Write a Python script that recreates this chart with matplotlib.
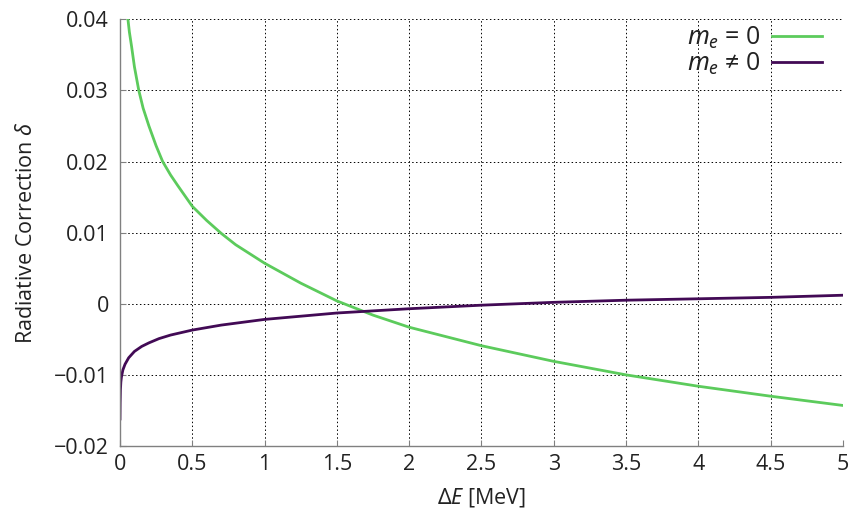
import matplotlib
matplotlib.use("Agg")
import matplotlib.pyplot as plt

# Data
x_me0 = [0.055, 0.065, 0.08, 0.1, 0.13, 0.16, 0.2, 0.25, 0.295, 0.35, 0.4, 0.5, 0.6,
         0.7, 0.8, 1.0, 1.25, 1.5, 1.75, 2.0, 2.5, 3.0, 3.5, 4.0, 4.5, 5.0]
y_me0 = [0.040, 0.0382, 0.0362, 0.0333, 0.0300, 0.0275, 0.0250, 0.0222, 0.0200,
         0.0181, 0.0166, 0.0137, 0.0117, 0.0099, 0.0083, 0.0057, 0.0029, 0.0004,
         -0.0016, -0.0033, -0.0059, -0.0081, -0.0100, -0.0116, -0.0130, -0.0143]

x_me = [0.0, 0.001, 0.003, 0.006, 0.01, 0.02, 0.035, 0.06, 0.1, 0.15, 0.2, 0.27,
        0.35, 0.5, 0.7, 1.0, 1.5, 2.0, 2.5, 3.0, 3.5, 4.0, 4.5, 5.0]
y_me = [-0.0162, -0.0140, -0.0121, -0.0110, -0.0103, -0.0093, -0.0085, -0.0076,
        -0.0067, -0.0060, -0.0055, -0.0049, -0.0044, -0.0037, -0.0030, -0.0022,
        -0.0013, -0.0007, -0.0002, 0.0002, 0.0005, 0.0007, 0.0009, 0.0012]

xticks = [0, 0.5, 1, 1.5, 2, 2.5, 3, 3.5, 4, 4.5, 5]
xticklabels = ["0", "0.5", "1", "1.5", "2", "2.5", "3", "3.5", "4", "4.5", "5"]
yticks = [-0.02, -0.01, 0, 0.01, 0.02, 0.03, 0.04]
yticklabels = ["\u22120.02", "\u22120.01", "0", "0.01", "0.02", "0.03", "0.04"]

plt.rcParams['font.family'] = ['Open Sans', 'DejaVu Sans']
plt.rcParams['mathtext.fontset'] = 'custom'
plt.rcParams['mathtext.rm'] = 'Noto Sans'
plt.rcParams['mathtext.it'] = 'Noto Sans:italic'

fig = plt.figure(figsize=(8.51, 5.14), dpi=100)
ax = fig.add_axes([0.141, 0.1323, 0.8496, 0.8302])

green = '#5ccb5c'
purple = '#420a55'
ax.plot(x_me0, y_me0, color=green, lw=2.0, label=r'$m_e$ = 0')
ax.plot(x_me, y_me, color=purple, lw=2.0, label=r'$m_e$ ≠ 0')

ax.set_xlim(0, 5)
ax.set_ylim(-0.02, 0.04)
ax.set_xticks(xticks)
ax.set_xticklabels(xticklabels)
ax.set_yticks(yticks)
ax.set_yticklabels(yticklabels)

ax.grid(True, color='black', linestyle=(0, (1.5, 2.5)), linewidth=0.7)
for s in ['top', 'right']:
    ax.spines[s].set_visible(False)
for s in ['left', 'bottom']:
    ax.spines[s].set_color('#808080')
    ax.spines[s].set_linewidth(1.0)
ax.tick_params(direction='in', length=4, color='#808080', labelsize=15.5,
               labelcolor='#222222')
ax.tick_params(axis='x', pad=6)
ax.tick_params(axis='y', pad=8)

ax.set_xlabel(r'$\Delta E$ [MeV]', fontsize=15.5, color='#222222', labelpad=8)
ax.set_ylabel(r'Radiative Correction $\delta$', fontsize=15.5, color='#222222',
              labelpad=12)

leg = ax.legend(loc='upper right', frameon=False, markerfirst=False, fontsize=18,
                handlelength=2.0, handletextpad=0.45, borderaxespad=0.0,
                labelspacing=0.0, bbox_to_anchor=(0.985, 1.01))
for t in leg.get_texts():
    t.set_color('#222222')

fig.savefig('out.png', dpi=100)
